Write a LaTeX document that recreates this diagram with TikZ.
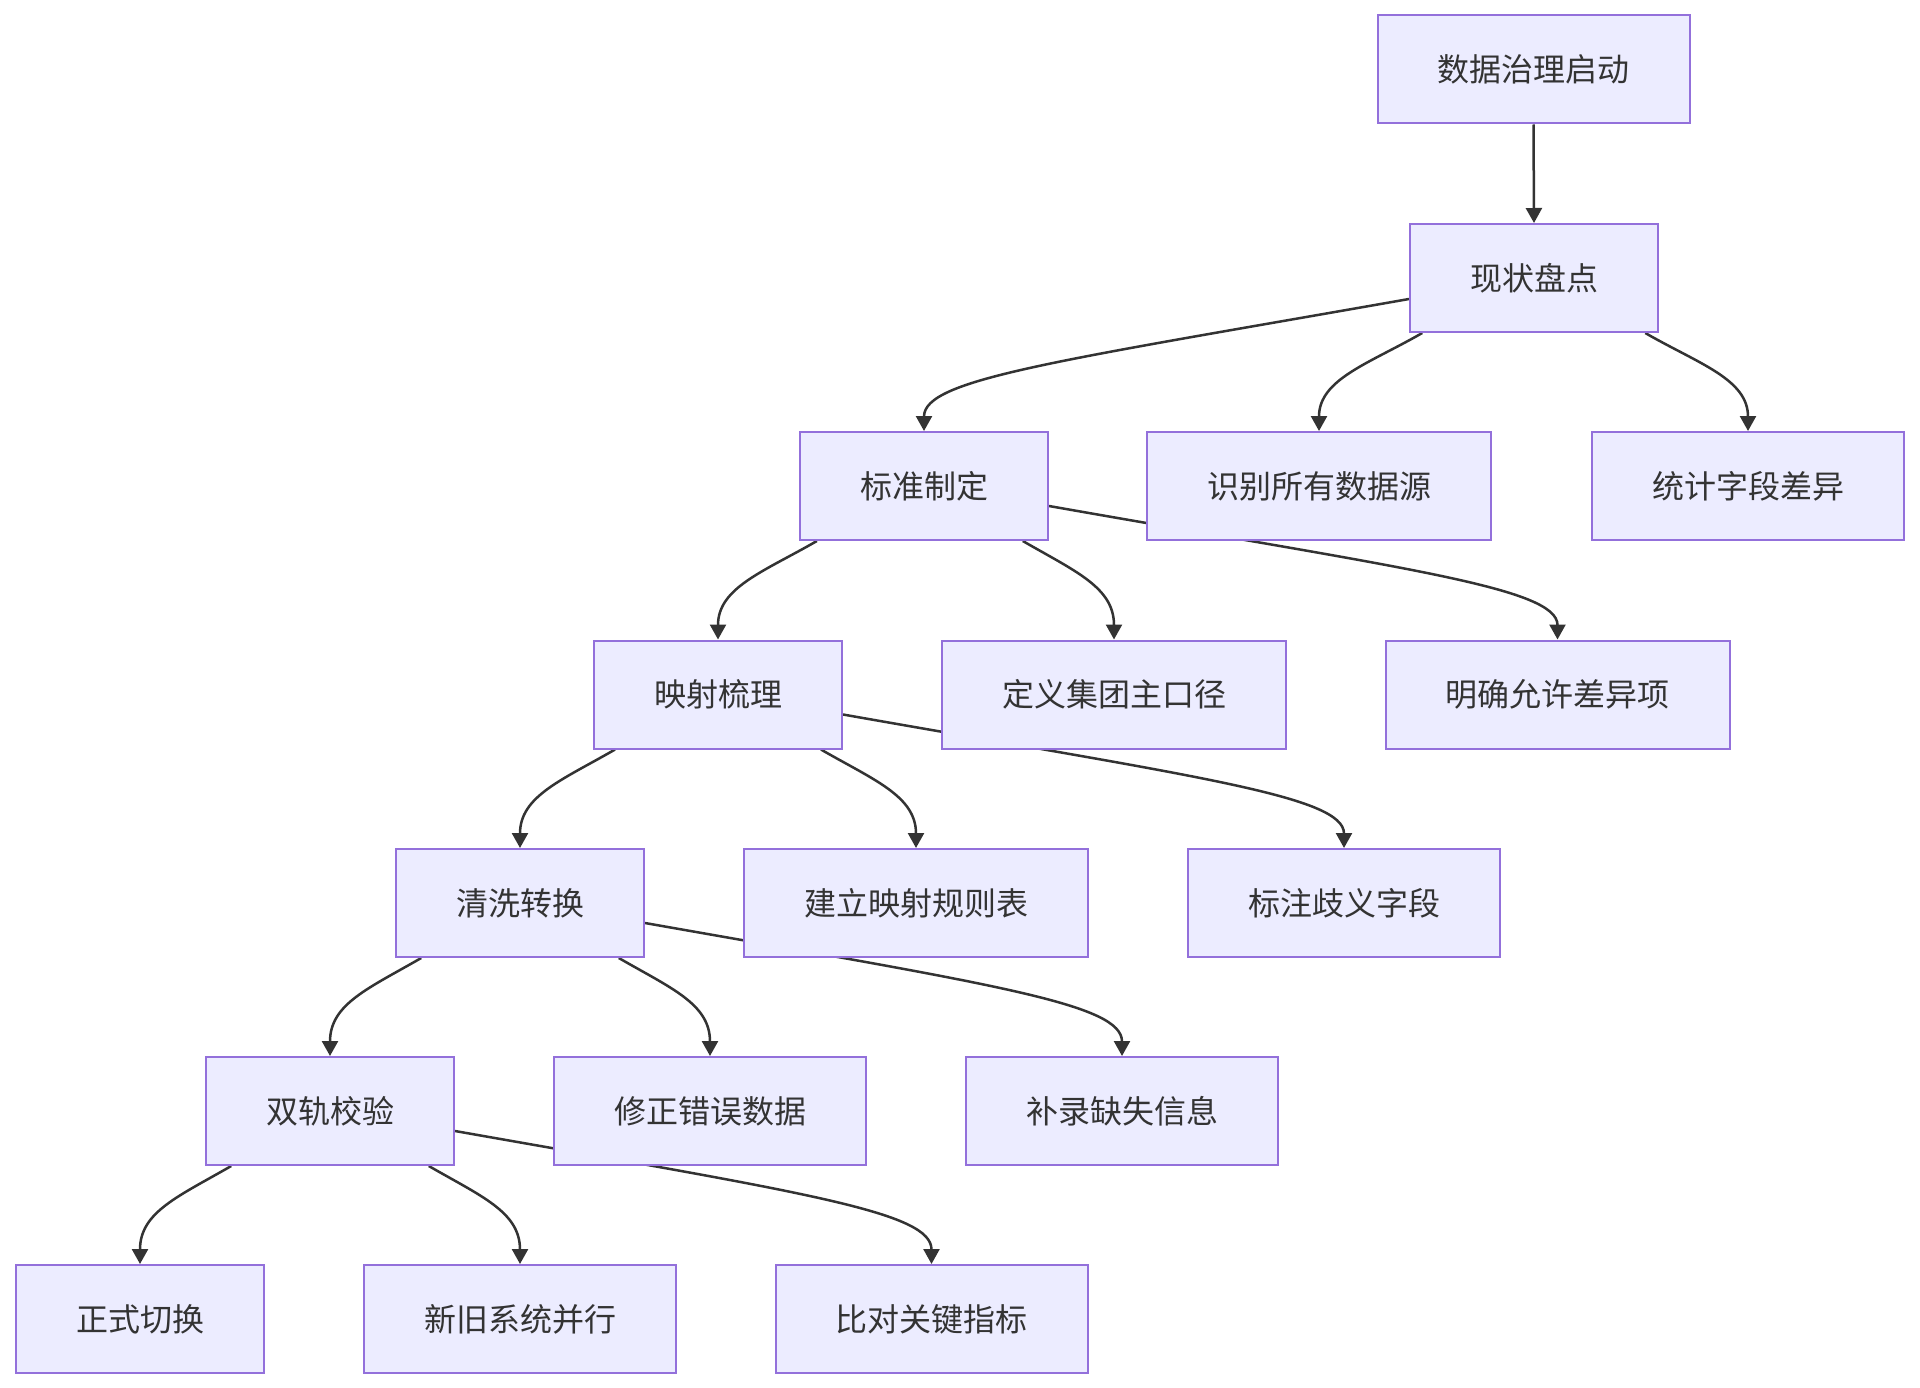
\documentclass[tikz,border=0pt]{standalone}
\usepackage{fontspec}
\setmainfont{Noto Sans CJK SC}
\usetikzlibrary{arrows.meta,calc}
\definecolor{nodefill}{HTML}{ECECFF}
\definecolor{nodeline}{HTML}{9370DB}
\definecolor{edgecol}{HTML}{333333}
\pgfdeclarelayer{bg}
\pgfsetlayers{bg,main}
\begin{document}
\begin{tikzpicture}[x=1pt,y=1pt,
  box/.style={draw=nodeline, fill=nodefill, line width=2pt, minimum height=108pt,
    inner xsep=60pt, inner ysep=0pt, text=edgecol, font=\fontsize{32}{38}\selectfont},
  link/.style={draw=edgecol, line width=2.5pt, -{Triangle[length=15pt,width=16pt]}},
  shortl/.style={link, out=210, in=90, out distance=61pt, in distance=52pt},
  shortr/.style={link, out=-30, in=90, out distance=61pt, in distance=52pt},
  longl/.style={link, out=190, in=90, out distance=360pt, in distance=52pt},
  longr/.style={link, out=-10, in=90, out distance=360pt, in distance=52pt}]
\useasboundingbox (0,0) rectangle (1920,-1388);

\node[box] (start) at (1533.5,-69.5) {数据治理启动};
\node[box] (xz)  at (1534,-278) {现状盘点};
\node[box] (bz)  at (924,-486) {标准制定};
\node[box] (sb)  at (1319,-486) {识别所有数据源};
\node[box] (tj)  at (1748,-486) {统计字段差异};
\node[box] (ys)  at (718,-694.5) {映射梳理};
\node[box] (dy)  at (1114,-694.5) {定义集团主口径};
\node[box] (mq)  at (1557.5,-694.5) {明确允许差异项};
\node[box] (qx)  at (520,-903) {清洗转换};
\node[box] (jl)  at (916,-903) {建立映射规则表};
\node[box] (bq)  at (1344,-903) {标注歧义字段};
\node[box] (sg)  at (330,-1111) {双轨校验};
\node[box] (xc)  at (710,-1111) {修正错误数据};
\node[box] (bl)  at (1122,-1111) {补录缺失信息};
\node[box] (zs)  at (140,-1319) {正式切换};
\node[box] (xj)  at (520,-1319) {新旧系统并行};
\node[box] (bd)  at (931.5,-1319) {比对关键指标};

\begin{pgfonlayer}{bg}
\fill[white] (0,0) rectangle (1920,-1388);
\draw[link] (start.south) -- (xz.north);
% level 1
\draw[longl] ([yshift=-21pt]xz.west) to (bz.north);
\draw[shortl] ($(xz.south)!0.52!(sb.north |- xz.south)$) to (sb.north);
\draw[shortr] ($(xz.south)!0.52!(tj.north |- xz.south)$) to (tj.north);
% level 2
\draw[shortl] ($(bz.south)!0.52!(ys.north |- bz.south)$) to (ys.north);
\draw[shortr] ($(bz.south)!0.52!(dy.north |- bz.south)$) to (dy.north);
\draw[longr] ([yshift=-20pt]bz.east) to (mq.north);
% level 3
\draw[shortl] ($(ys.south)!0.52!(qx.north |- ys.south)$) to (qx.north);
\draw[shortr] ($(ys.south)!0.52!(jl.north |- ys.south)$) to (jl.north);
\draw[longr] ([yshift=-20pt]ys.east) to (bq.north);
% level 4
\draw[shortl] ($(qx.south)!0.52!(sg.north |- qx.south)$) to (sg.north);
\draw[shortr] ($(qx.south)!0.52!(xc.north |- qx.south)$) to (xc.north);
\draw[longr] ([yshift=-20pt]qx.east) to (bl.north);
% level 5
\draw[shortl] ($(sg.south)!0.52!(zs.north |- sg.south)$) to (zs.north);
\draw[shortr] ($(sg.south)!0.52!(xj.north |- sg.south)$) to (xj.north);
\draw[longr] ([yshift=-20pt]sg.east) to (bd.north);
\end{pgfonlayer}
\end{tikzpicture}
\end{document}
